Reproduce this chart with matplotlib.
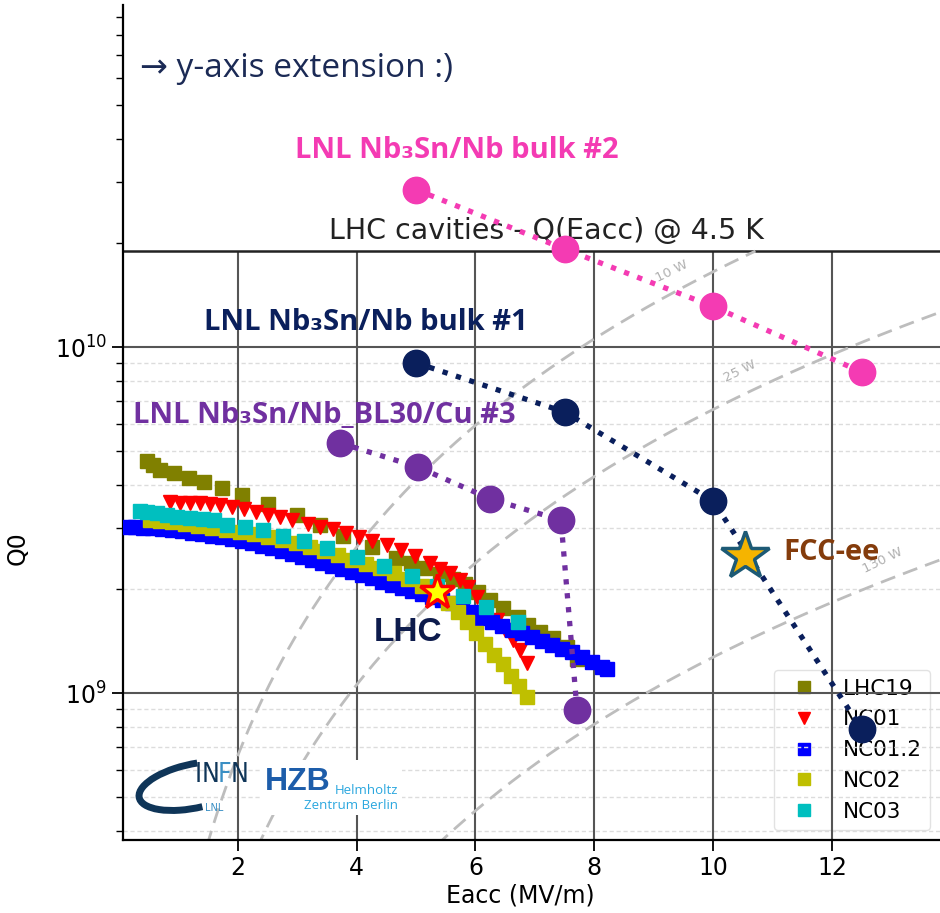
import matplotlib
matplotlib.use("Agg")
import matplotlib.pyplot as plt
from matplotlib.patches import Arc, Rectangle
from matplotlib.transforms import IdentityTransform
from matplotlib.ticker import NullFormatter
import numpy as np

# LHC cavity measurements, Eacc in MV/m and Q0 in units of 1e9
lhc19_e = [0.47, 0.57, 0.69, 0.93, 1.18, 1.43, 1.73, 2.07, 2.51, 3.00, 3.38, 3.77, 4.26, 4.66,
           4.92, 5.15, 5.40, 5.62, 5.82, 6.04, 6.25, 6.46, 6.72, 6.89, 7.09, 7.31, 7.54, 7.71]
lhc19_q = [4.68, 4.56, 4.41, 4.32, 4.18, 4.07, 3.91, 3.73, 3.52, 3.27, 3.06, 2.84, 2.64, 2.46,
           2.38, 2.30, 2.21, 2.14, 2.07, 1.96, 1.86, 1.76, 1.66, 1.57, 1.50, 1.44, 1.36, 1.25]

nc01_e = [0.86, 1.03, 1.20, 1.36, 1.53, 1.70, 1.90, 2.10, 2.31, 2.51, 2.71, 2.91, 3.18, 3.38,
          3.60, 3.82, 4.04, 4.26, 4.51, 4.75, 4.98, 5.24, 5.40, 5.57, 5.74, 5.88, 6.03, 6.16,
          6.36, 6.50, 6.63, 6.75, 6.87]
nc01_q = [3.56, 3.54, 3.54, 3.54, 3.52, 3.49, 3.45, 3.41, 3.34, 3.27, 3.23, 3.16, 3.08, 3.02,
          2.98, 2.90, 2.82, 2.75, 2.68, 2.59, 2.49, 2.38, 2.28, 2.22, 2.12, 2.03, 1.89, 1.77,
          1.63, 1.52, 1.42, 1.33, 1.22]

nc012_e = [0.15, 0.27, 0.40, 0.56, 0.72, 0.89, 1.06, 1.23, 1.40, 1.57, 1.73, 1.90, 2.07, 2.24,
           2.41, 2.58, 2.74, 2.91, 3.08, 3.25, 3.42, 3.59, 3.75, 3.92, 4.09, 4.26, 4.43, 4.60,
           4.76, 4.93, 5.10, 5.27, 5.44, 5.61, 5.77, 5.94, 6.11, 6.28, 6.45, 6.62, 6.78, 6.95,
           7.12, 7.29, 7.46, 7.63, 7.79, 7.96, 8.13, 8.22]
nc012_q = [3.02, 3.02, 3.00, 3.00, 2.98, 2.96, 2.94, 2.90, 2.88, 2.84, 2.83, 2.79, 2.75, 2.71,
           2.66, 2.63, 2.57, 2.52, 2.47, 2.42, 2.38, 2.33, 2.28, 2.24, 2.19, 2.15, 2.09, 2.05,
           2.01, 1.97, 1.93, 1.89, 1.86, 1.82, 1.78, 1.71, 1.65, 1.60, 1.56, 1.52, 1.49, 1.45,
           1.41, 1.38, 1.34, 1.31, 1.27, 1.23, 1.19, 1.17]

nc02_e = [0.52, 0.69, 0.89, 1.11, 1.33, 1.57, 1.80, 2.04, 2.27, 2.51, 2.74, 2.98, 3.22, 3.45,
          3.69, 3.92, 4.16, 4.39, 4.63, 4.87, 5.10, 5.34, 5.54, 5.71, 5.86, 6.01, 6.16, 6.31,
          6.46, 6.60, 6.73, 6.87]
nc02_q = [3.16, 3.14, 3.12, 3.08, 3.04, 3.00, 2.96, 2.92, 2.88, 2.83, 2.77, 2.71, 2.64, 2.57,
          2.50, 2.42, 2.36, 2.30, 2.22, 2.13, 2.04, 1.93, 1.82, 1.71, 1.60, 1.49, 1.39, 1.29,
          1.21, 1.12, 1.05, 0.973]

nc03_e = [0.35, 0.47, 0.64, 0.81, 0.98, 1.20, 1.41, 1.60, 1.82, 2.12, 2.42, 2.76, 3.11, 3.50,
          4.01, 4.46, 4.93, 5.35, 5.79, 6.18, 6.72]
nc03_q = [3.36, 3.34, 3.31, 3.27, 3.23, 3.21, 3.18, 3.16, 3.06, 3.02, 2.96, 2.84, 2.75, 2.63,
          2.47, 2.33, 2.18, 2.04, 1.91, 1.77, 1.60]

# LNL Nb3Sn cavities
bulk2_e = [5.0, 7.5, 10.0, 12.5]
bulk2_q = [28.5, 19.2, 13.1, 8.47]
bulk1_e = [5.0, 7.5, 10.0, 12.5]
bulk1_q = [9.0, 6.49, 3.59, 0.787]
bl30_e = [3.72, 5.03, 6.25, 7.44, 7.71]
bl30_q = [5.28, 4.50, 3.64, 3.16, 0.893]

lhc_point = (5.35, 1.96)
fcc_point = (10.54, 2.49)

# constant dissipated power lines
power_w = [10, 25, 130]
power_labels = ["10 W", "25 W", "130 W"]
power_k = 1.65e9  # Q0 * P / Eacc^2

series = [
    ("LHC19", lhc19_e, lhc19_q, "s", "#808000"),
    ("NC01", nc01_e, nc01_q, "v", "#ff0000"),
    ("NC01.2", nc012_e, nc012_q, "s", "#0000ff"),
    ("NC02", nc02_e, nc02_q, "s", "#bfbf00"),
    ("NC03", nc03_e, nc03_q, "s", "#00bfbf"),
]

W, H = 940, 913
fig = plt.figure(figsize=(W / 100, H / 100), dpi=100)
ax = fig.add_axes([123 / W, 1 - 840 / H, 1 - 123 / W, 835 / H])
ax.set_yscale("log")
ax.set_xlim(0.067, 13.82)
ax.set_ylim(3.76e8, 9.74e10)
y_top = 1.9e10  # top frame of the original LHC plot

for s in ["top", "right"]:
    ax.spines[s].set_visible(False)
for s in ["left", "bottom"]:
    ax.spines[s].set_linewidth(1.6)

ax.set_xticks([2, 4, 6, 8, 10, 12])
ax.yaxis.set_minor_formatter(NullFormatter())
ax.tick_params(which="major", labelsize=17, length=8, width=1.3)
ax.tick_params(which="minor", length=5, width=1.0)
ax.set_xlabel("Eacc (MV/m)", fontsize=17)
ax.set_ylabel("Q0", fontsize=17)
ax.xaxis.set_label_coords(0.486, -0.052)
ax.yaxis.set_label_coords(-0.114, 0.35)

# grid of the original plot
minor_y = [m * 10 ** d for d in (8, 9) for m in range(2, 10)]
minor_y = [v for v in minor_y if 3.76e8 < v < y_top]
ax.hlines(minor_y, 0.067, 13.82, colors="#dcdcdc", linestyles=(0, (3, 2)), lw=1.0, zorder=1)
ax.hlines([1e9, 1e10], 0.067, 13.82, colors="#555555", lw=1.5, zorder=1)
ax.vlines([2, 4, 6, 8, 10, 12], 3.76e8, y_top, colors="#555555", lw=1.5, zorder=1)
ax.hlines([y_top], 0.067, 13.82, colors="#222222", lw=1.8, zorder=1)

e_line = np.linspace(0.05, 14, 400)
for p in power_w:
    q_line = power_k * e_line ** 2 / p
    q_line[q_line > y_top] = np.nan
    ax.plot(e_line, q_line, color="#bdbdbd", lw=2, ls=(0, (5.5, 3)), zorder=1.5)
label_pos = [(9.31, 1.66e10), (10.45, 8.5e9), (12.85, 2.42e9)]
for (lx, ly), txt in zip(label_pos, power_labels):
    ax.text(lx, ly, txt, color="#b0b0b0", fontsize=9.5, rotation=26,
            ha="center", va="center", zorder=1.5)

for name, e, q, m, c in series:
    ax.plot(e, np.array(q) * 1e9, ls="none", marker=m, color=c, ms=9.5,
            mec=c, label=name, zorder=3)

ax.plot(lhc_point[0], lhc_point[1] * 1e9, marker="*", ms=26, mfc="#ffff00",
        mec="#ff0000", mew=2.5, zorder=4)

lnl = [(bulk2_e, bulk2_q, "#f43bb3"), (bulk1_e, bulk1_q, "#0a1f5c"), (bl30_e, bl30_q, "#7030a0")]
for e, q, c in lnl:
    ax.plot(e, np.array(q) * 1e9, ls=":", lw=3.8, color=c, marker="o", ms=19, zorder=5)

ax.plot(fcc_point[0], fcc_point[1] * 1e9, marker="*", ms=36, mfc="#f5b400",
        mec="#1d5a75", mew=2.5, zorder=6)

leg = ax.legend(loc="lower right", fontsize=15.5, frameon=True, framealpha=0.6,
                edgecolor="#d0d0d0", borderaxespad=0.45, handletextpad=0.8,
                markerscale=0.9, fancybox=True)
leg.set_zorder(0.9)

# annotations
label_font = ["Open Sans", "DejaVu Sans"]
ax.text(0.354, 6.39e10, "\u2192 y-axis extension :)", fontsize=24, color="#1b2a55",
        family=label_font, va="center", ha="left")
ax.annotate("LHC cavities - Q(Eacc) @ 4.5 K", (7.19, y_top), xytext=(0, 4),
            textcoords="offset points", ha="center", va="bottom", fontsize=20.5, color="#222222")
ax.text(2.96, 3.71e10, "LNL Nb\u2083Sn/Nb bulk #2", fontsize=21, fontweight="bold",
        color="#f43bb3", family=label_font, va="center", ha="left")
ax.text(1.43, 1.18e10, "LNL Nb\u2083Sn/Nb bulk #1", fontsize=21, fontweight="bold",
        color="#0a1f5c", family=label_font, va="center", ha="left")
ax.text(0.236, 6.35e9, "LNL Nb\u2083Sn/Nb_BL30/Cu #3", fontsize=21, fontweight="bold",
        color="#7030a0", family=label_font, va="center", ha="left")
ax.text(4.87, 1.50e9, "LHC", fontsize=24, fontweight="bold", color="#0d1b4c",
        family="Liberation Sans", va="center", ha="center", zorder=4)
ax.text(11.18, 2.54e9, "FCC-ee", fontsize=21, fontweight="bold", color="#843c0c",
        family=label_font, va="center", ha="left", zorder=6)

# logos, in pixel positions
ident = IdentityTransform()
fig.add_artist(Arc((194, H - 786), 112, 44, angle=12, theta1=70, theta2=280,
                   color="#0f3558", lw=5, transform=ident))

renderer = fig.canvas.get_renderer()
x_cursor = 195
for letter, col in [("I", "#0f3558"), ("N", "#0f3558"), ("F", "#3a8fc4"), ("N", "#0f3558")]:
    t = fig.text(x_cursor / W, 1 - 782 / H, letter, fontsize=19, color=col,
                 family="DejaVu Sans", fontstretch="condensed")
    x_cursor = t.get_window_extent(renderer).x1 - 1
fig.text(214 / W, 1 - 808 / H, "LNL", fontsize=7, color="#3a8fc4", ha="center", va="center")

fig.add_artist(Rectangle((262, H - 815), 140, 55, facecolor="white", edgecolor="none",
                         transform=ident, zorder=1))
fig.text(265 / W, 1 - 790 / H, "HZB", fontsize=23, fontweight="bold", color="#1d5daa",
         family="Liberation Sans", zorder=2)
fig.text(398 / W, 1 - 790 / H, "Helmholtz", fontsize=9.5, color="#2aa7df", ha="right",
         va="center", family="Open Sans", zorder=2)
fig.text(398 / W, 1 - 805 / H, "Zentrum Berlin", fontsize=9.5, color="#2aa7df", ha="right",
         va="center", family="Open Sans", zorder=2)

fig.savefig("out.png", dpi=100)
